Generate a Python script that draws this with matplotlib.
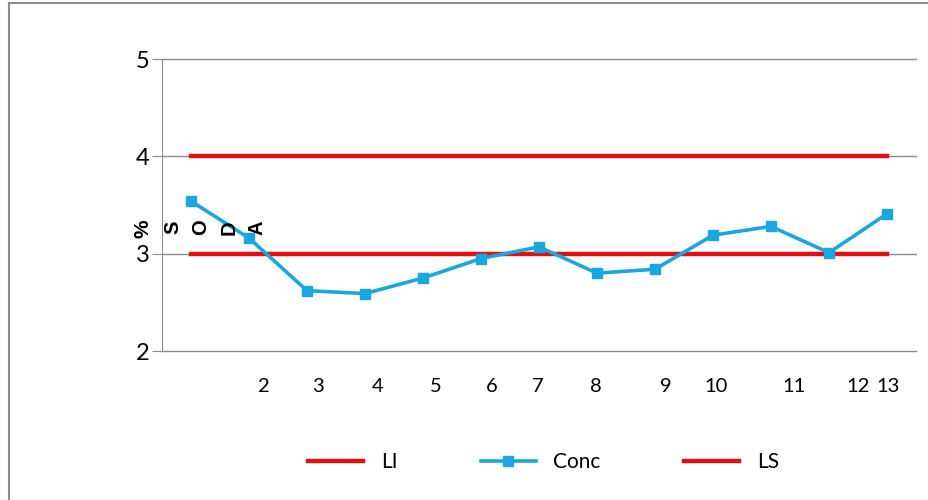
import numpy as np
import matplotlib
matplotlib.use("Agg")
from matplotlib import pyplot as plt
from matplotlib.lines import Line2D

plt.rcParams['font.family'] = ['Lato', 'DejaVu Sans']

# datos
muestras = list(range(1, 14))
conc = [3.54, 3.16, 2.62, 2.59, 2.75, 2.95, 3.07, 2.80, 2.84, 3.19, 3.28, 3.01, 3.41]
li = [3] * 13
ls = [4] * 13
xtick_labels = ['2', '3', '4', '5', '6', '7', '8', '9', '10', '11', '12', '13']
# posiciones (desordenadas) de las etiquetas del eje x
xtick_pos = [2.26, 3.19, 4.22, 5.22, 6.19, 6.97, 7.98, 9.19, 10.05, 11.40, 12.50, 13.02]

RED = '#e01010'
BLUE = '#1aa7e1'
GRAY = '#8c8c8c'

fig = plt.figure(figsize=(9.29, 5.0), dpi=100)
ax = fig.add_axes([162 / 929, 1 - 351 / 500, (916 - 162) / 929, (351 - 59) / 500])

# marco exterior (solo izquierda y arriba visibles)
fig.add_artist(Line2D([8.5 / 929, 8.5 / 929], [0, 1 - 3 / 500], color=GRAY, lw=1.5,
                      transform=fig.transFigure))
fig.add_artist(Line2D([8.5 / 929, 1], [1 - 3 / 500, 1 - 3 / 500], color=GRAY, lw=1.5,
                      transform=fig.transFigure))

ax.plot(muestras, li, color=RED, lw=3.2, label='LI', zorder=3)
ax.plot(muestras, conc, color=BLUE, lw=2.6, marker='s', ms=7, label='Conc', zorder=4)
ax.plot(muestras, ls, color=RED, lw=3.2, label='LS', zorder=3)

ax.set_xlim(0.5, 13.5)
ax.set_ylim(2, 5)
ax.set_yticks([2, 3, 4, 5])
ax.yaxis.grid(True, color=GRAY, lw=1.0)
for gl in ax.get_ygridlines():
    gl.set_clip_on(False)
ax.set_axisbelow(True)
for s in ['top', 'right', 'bottom']:
    ax.spines[s].set_visible(False)
ax.spines['left'].set_color(GRAY)
ax.tick_params(axis='y', length=7, color=GRAY, labelsize=17, pad=2)
ax.set_xticks([])

for p, t in zip(xtick_pos, xtick_labels):
    ax.text(p, 2 - 0.36, t, ha='center', va='center', fontsize=14.5,
            transform=ax.transData)

# titulo del eje y, letras sueltas
ax.text(0.17, 3.26, '%', rotation=90, ha='center', va='center', fontsize=15,
        fontweight='bold', transform=ax.transData, clip_on=False, zorder=10,
        family=['Liberation Sans', 'DejaVu Sans'])
for i, ch in enumerate('SODA'):
    ax.text(0.69 + i * 0.48, 3.27, ch, rotation=90, ha='center', va='center',
            fontsize=14.5, fontweight='bold', transform=ax.transData, clip_on=False,
            zorder=10, family=['Liberation Sans', 'DejaVu Sans'])

fig.legend(loc='center', bbox_to_anchor=(0.585, 1 - 462 / 500), ncol=3, frameon=False,
           fontsize=15, handlelength=2.65, columnspacing=4.0, handletextpad=0.85)

fig.savefig('out.png', dpi=100)
